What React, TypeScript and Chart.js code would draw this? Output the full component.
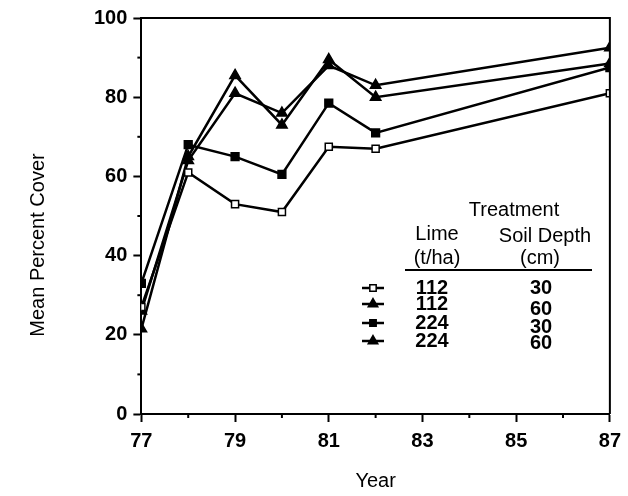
import React, { useEffect, useRef } from "react";
import { Chart, registerables } from "chart.js";

Chart.register(...registerables);

const years = [77, 78, 79, 80, 81, 82, 87];
const lime112depth30 = [27, 61, 53, 51, 67.5, 67, 81];
const lime112depth60 = [26, 64, 81, 76, 88, 83, 92.5];
const lime224depth30 = [33, 68, 65, 60.5, 78.5, 71, 87.5];
const lime224depth60 = [21.5, 65, 85.5, 73, 89.5, 80, 88.5];

const xTickValues = [77, 78, 79, 80, 81, 82, 83, 84, 85, 86, 87];
const yTickValues = [0, 10, 20, 30, 40, 50, 60, 70, 80, 90, 100];

const xTitle = "Year";
const yTitle = "Mean Percent Cover";
const legendTitle = "Treatment";
const legendLimeHeader = ["Lime", "(t/ha)"];
const legendDepthHeader = ["Soil Depth", "(cm)"];
const legendLime = ["112", "112", "224", "224"];
const legendDepth = ["30", "60", "30", "60"];

const FONT = "'Liberation Sans', Arial, Helvetica, sans-serif";

const seriesStyles = [
  { style: "rect", fill: "#ffffff", radius: 5 },
  { style: "triangle", fill: "#000000", radius: 6 },
  { style: "rect", fill: "#000000", radius: 5.5 },
  { style: "triangle", fill: "#000000", radius: 6 },
];

function drawMarker(ctx: CanvasRenderingContext2D, kind: string, fill: string, x: number, y: number, r: number) {
  ctx.save();
  ctx.fillStyle = fill;
  ctx.strokeStyle = "#000";
  ctx.lineWidth = 1.5;
  ctx.beginPath();
  if (kind === "rect") {
    const s = r * Math.SQRT1_2;
    ctx.rect(x - s, y - s, 2 * s, 2 * s);
  } else {
    ctx.moveTo(x, y - r);
    ctx.lineTo(x + r * 0.866, y + r * 0.5);
    ctx.lineTo(x - r * 0.866, y + r * 0.5);
    ctx.closePath();
  }
  ctx.fill();
  ctx.stroke();
  ctx.restore();
}

const framePlugin = {
  id: "frameAndLegend",
  afterDraw(chart: any) {
    const ctx: CanvasRenderingContext2D = chart.ctx;
    const { left, right, top, bottom } = chart.chartArea;
    const xs = chart.scales.x;
    const ys = chart.scales.y;
    ctx.save();
    ctx.strokeStyle = "#000";
    ctx.lineWidth = 2;
    ctx.beginPath();
    ctx.moveTo(left, top);
    ctx.lineTo(right, top);
    ctx.lineTo(right, bottom);
    ctx.stroke();
    xTickValues.forEach((v) => {
      if (v % 2 === 0) {
        const px = xs.getPixelForValue(v);
        ctx.beginPath();
        ctx.moveTo(px, bottom);
        ctx.lineTo(px, bottom + 4);
        ctx.stroke();
      }
    });
    yTickValues.forEach((v) => {
      if (v % 20 !== 0) {
        const py = ys.getPixelForValue(v);
        ctx.beginPath();
        ctx.moveTo(left - 4, py);
        ctx.lineTo(left, py);
        ctx.stroke();
      }
    });

    // y axis title
    ctx.fillStyle = "#000";
    ctx.textAlign = "center";
    ctx.textBaseline = "middle";
    ctx.font = `20px ${FONT}`;
    ctx.save();
    ctx.translate(38, 245);
    ctx.rotate(-Math.PI / 2);
    ctx.fillText(yTitle, 0, 0);
    ctx.restore();

    // legend
    ctx.font = `20px ${FONT}`;
    ctx.fillText(legendTitle, 514, 210);
    ctx.fillText(legendLimeHeader[0], 437, 234);
    ctx.fillText(legendLimeHeader[1], 437, 258);
    ctx.fillText(legendDepthHeader[0], 545, 236);
    ctx.fillText(legendDepthHeader[1], 540, 258);
    ctx.lineWidth = 2;
    ctx.beginPath();
    ctx.moveTo(405, 270);
    ctx.lineTo(592, 270);
    ctx.stroke();
    const rowLimeY = [288, 304, 323, 341];
    const rowDepthY = [288, 309, 327, 343];
    ctx.font = `bold 20px ${FONT}`;
    legendLime.forEach((t, i) => {
      const st = seriesStyles[i];
      const my = rowLimeY[i];
      ctx.lineWidth = 2.5;
      ctx.beginPath();
      ctx.moveTo(362, my);
      ctx.lineTo(384, my);
      ctx.stroke();
      drawMarker(ctx, st.style, st.fill, 373, my, st.style === "rect" ? 4.5 : 5.5);
      ctx.fillStyle = "#000";
      ctx.fillText(t, 432, my);
      ctx.fillText(legendDepth[i], 541, rowDepthY[i]);
    });
    ctx.restore();
  },
};

export default function App() {
  const canvasRef = useRef<HTMLCanvasElement | null>(null);

  useEffect(() => {
    if (!canvasRef.current) return;
    const allSeries = [lime112depth30, lime112depth60, lime224depth30, lime224depth60];
    const datasets = allSeries.map((vals, i) => ({
      label: `${legendLime[i]} ${legendDepth[i]}`,
      data: years.map((y, j) => ({ x: y, y: vals[j] })),
      borderColor: "#000",
      borderWidth: 2.5,
      backgroundColor: seriesStyles[i].fill,
      pointStyle: seriesStyles[i].style as any,
      pointRadius: seriesStyles[i].radius,
      pointBackgroundColor: seriesStyles[i].fill,
      pointBorderColor: "#000",
      pointBorderWidth: 1.5,
      tension: 0,
      fill: false,
    }));

    const chart = new Chart(canvasRef.current, {
      type: "line",
      data: { datasets },
      options: {
        animation: false,
        responsive: false,
        maintainAspectRatio: false,
        layout: { padding: { left: 88, right: 18, top: 17, bottom: 0 } },
        plugins: { legend: { display: false }, tooltip: { enabled: false } },
        scales: {
          x: {
            type: "linear",
            min: 77,
            max: 87,
            afterBuildTicks: (axis: any) => {
              axis.ticks = xTickValues.map((v) => ({ value: v }));
            },
            ticks: {
              autoSkip: false,
              maxRotation: 0,
              padding: 7,
              color: "#000",
              font: { family: FONT, size: 20, weight: "bold" },
              callback: (v: any) => (Number(v) % 2 === 1 ? String(v) : ""),
            },
            grid: {
              drawOnChartArea: false,
              drawTicks: true,
              tickLength: 8,
              tickWidth: 2,
              tickColor: (c: any) => (c.tick && c.tick.value % 2 === 1 ? "#000" : "rgba(0,0,0,0)"),
            },
            border: { display: true, color: "#000", width: 2 },
            title: {
              display: true,
              text: xTitle,
              color: "#000",
              font: { family: FONT, size: 20 },
              padding: { top: 9, bottom: 3 },
            },
          },
          y: {
            type: "linear",
            min: 0,
            max: 100,
            afterBuildTicks: (axis: any) => {
              axis.ticks = yTickValues.map((v) => ({ value: v }));
            },
            ticks: {
              autoSkip: false,
              padding: 6,
              color: "#000",
              font: { family: FONT, size: 20, weight: "bold" },
              callback: (v: any) => (Number(v) % 20 === 0 ? String(v) : ""),
            },
            grid: {
              drawOnChartArea: false,
              drawTicks: true,
              tickLength: 8,
              tickWidth: 2,
              tickColor: (c: any) => (c.tick && c.tick.value % 20 === 0 ? "#000" : "rgba(0,0,0,0)"),
            },
            border: { display: true, color: "#000", width: 2 },
            title: { display: false },
          },
        },
      },
      plugins: [framePlugin],
    });
    return () => chart.destroy();
  }, []);

  return (
    <div style={{ position: "fixed", left: 0, top: 0, width: 628, height: 496, background: "#fff" }}>
      <canvas ref={canvasRef} width={628} height={496} style={{ width: 628, height: 496, display: "block" }} />
    </div>
  );
}
